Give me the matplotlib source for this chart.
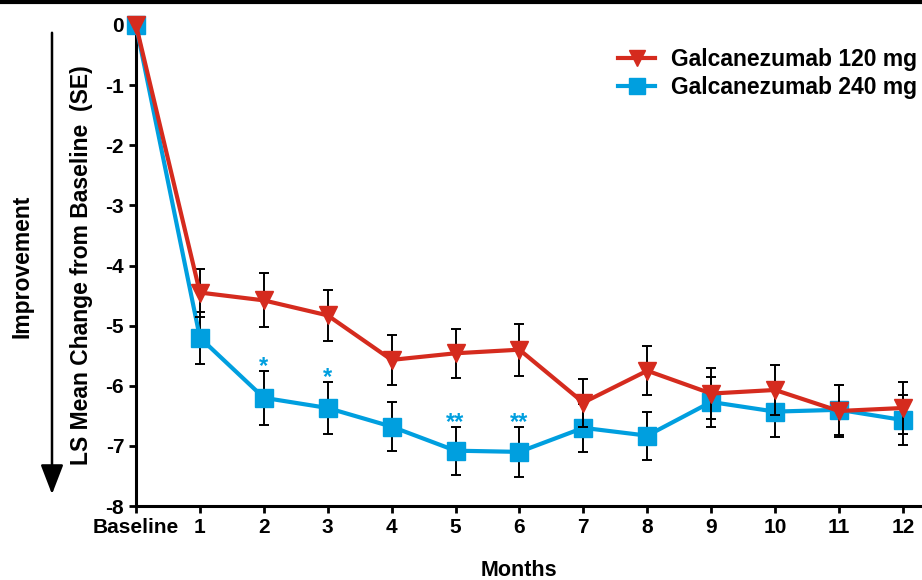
import numpy as np
import matplotlib
matplotlib.use("Agg")
import matplotlib.pyplot as plt
from matplotlib.lines import Line2D
from matplotlib.patches import FancyArrowPatch

plt.rcParams['font.family'] = ['Liberation Sans', 'DejaVu Sans']
plt.rcParams['font.weight'] = 'bold'
plt.rcParams['axes.unicode_minus'] = False

# data
months = [0, 1, 2, 3, 4, 5, 6, 7, 8, 9, 10, 11, 12]
tick_labels = ['Baseline', '1', '2', '3', '4', '5', '6', '7', '8', '9', '10', '11', '12']

mean_120 = [0, -4.45, -4.58, -4.83, -5.57, -5.46, -5.40, -6.28, -5.75, -6.13, -6.07, -6.42, -6.37]
se_120 = [0, 0.40, 0.45, 0.43, 0.41, 0.41, 0.43, 0.40, 0.41, 0.43, 0.42, 0.44, 0.43]

mean_240 = [0, -5.20, -6.20, -6.37, -6.68, -7.08, -7.10, -6.70, -6.83, -6.27, -6.43, -6.40, -6.57]
se_240 = [0, 0.43, 0.45, 0.43, 0.41, 0.40, 0.42, 0.40, 0.40, 0.42, 0.42, 0.42, 0.41]

stars = {2: '*', 3: '*', 5: '**', 6: '**'}

red = '#D52B1E'
blue = '#009FDF'

fig = plt.figure(figsize=(9.22, 5.8), dpi=100)
ax = fig.add_axes([136 / 922, 1 - 506 / 580, 1 - 136 / 922, (506 - 25) / 580])

# blue series
ax.errorbar(months[1:], mean_240[1:], yerr=se_240[1:], fmt='none', ecolor='black',
            elinewidth=1.4, capsize=3.5, capthick=1.4, zorder=2)
ax.plot(months, mean_240, color=blue, lw=3, marker='s', ms=13, mec=blue,
        label='Galcanezumab 240 mg', zorder=3, clip_on=False)

# red series
ax.errorbar(months[1:], mean_120[1:], yerr=se_120[1:], fmt='none', ecolor='black',
            elinewidth=1.4, capsize=3.5, capthick=1.4, zorder=4)
ax.plot(months, mean_120, color=red, lw=3, marker='v', ms=13.5, mec=red,
        label='Galcanezumab 120 mg', zorder=5, clip_on=False)

# significance marks
for m, s in stars.items():
    ax.annotate(s, (m, mean_240[m] + se_240[m]), xytext=(0, -5), textcoords='offset points',
                ha='center', va='bottom', color=blue, fontsize=17, fontweight='bold')

ax.set_xlim(0, 12.3)
ax.set_ylim(-8, 0)
ax.set_xticks(months)
ax.set_xticklabels(tick_labels)
ax.set_yticks(np.arange(-8, 1, 1))
ax.tick_params(axis='both', labelsize=15, width=2, length=5)
for lbl in ax.get_xticklabels() + ax.get_yticklabels():
    lbl.set_fontweight('bold')

for side in ['top', 'right']:
    ax.spines[side].set_visible(False)
for side in ['left', 'bottom']:
    ax.spines[side].set_linewidth(2.2)

ax.set_ylabel('LS Mean Change from Baseline  (SE)', fontsize=16.5, fontweight='bold')
ax.yaxis.set_label_coords((93 - 136) / 786, 0.5)
ax.set_xlabel('Months', fontsize=15.5, fontweight='bold')
ax.xaxis.set_label_coords((519 - 136) / 786, (506 - 560) / 481)

handles, labels = ax.get_legend_handles_labels()
ax.legend(handles[::-1], labels[::-1], loc='upper right', bbox_to_anchor=(1.02, 0.995),
          frameon=False, prop={'size': 16.5, 'weight': 'bold'}, handlelength=1.6,
          handletextpad=0.7, markerscale=0.85, labelspacing=0.2)

# improvement arrow on the left
fig.add_artist(FancyArrowPatch(
    (52 / 922, 1 - 30 / 580), (52 / 922, 1 - 497 / 580), transform=fig.transFigure,
    arrowstyle='-|>,head_length=1.3,head_width=0.5', lw=1.8, color='black', mutation_scale=14))
fig.text(22 / 922, 1 - 266 / 580, 'Improvement', rotation=90, ha='center', va='center',
         fontsize=16.5, fontweight='bold')

# border line at top
fig.add_artist(Line2D([0, 1], [0.997, 0.997], transform=fig.transFigure, color='black', lw=3))

fig.savefig('out.png', dpi=100)
